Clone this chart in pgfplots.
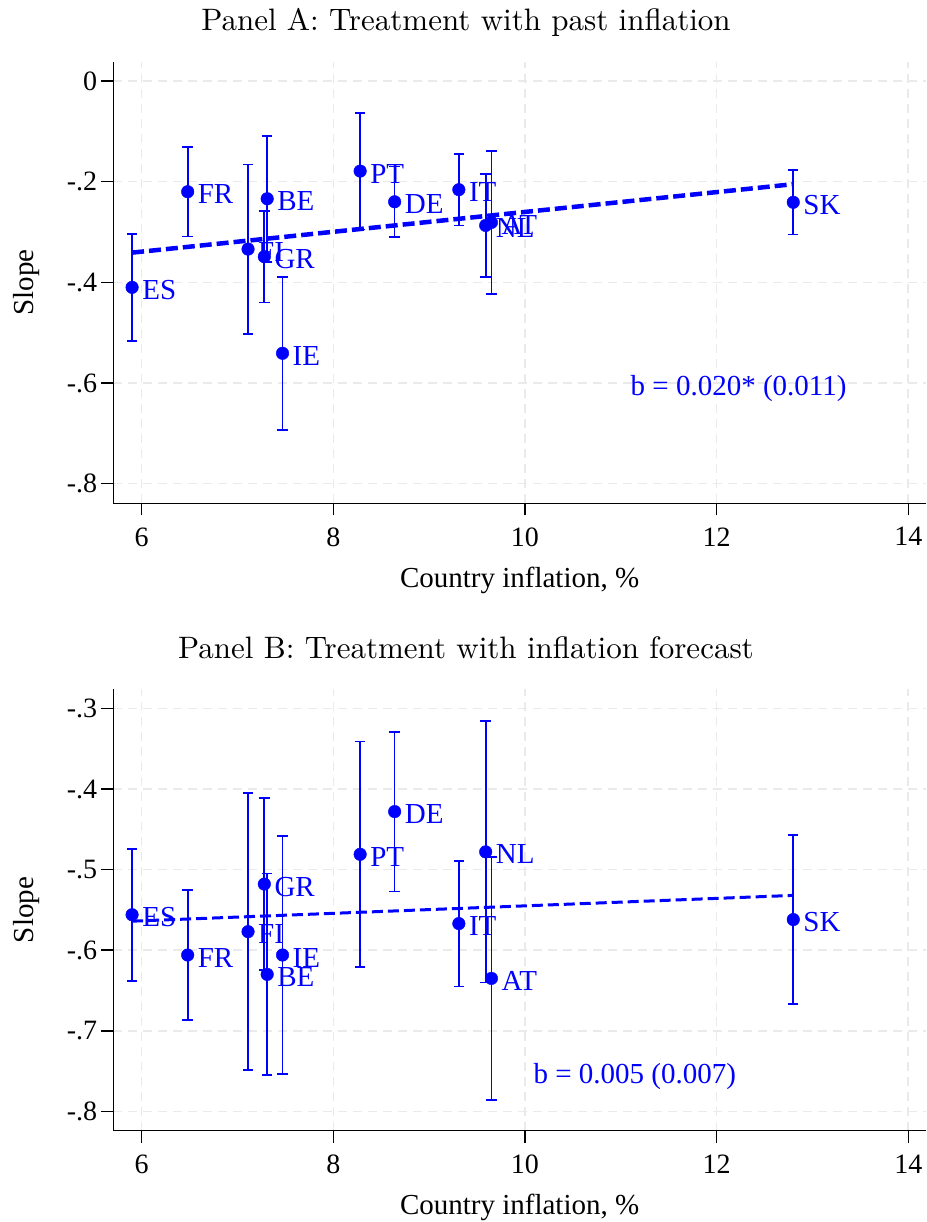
\documentclass[border=0pt]{standalone}
\usepackage{fontspec}
\newfontfamily\tnr{Liberation Serif}
\newfontfamily\lmten{lmroman10-regular.otf}
\usepackage{pgfplots}
\usepackage{pgfplotstable}
\pgfplotsset{compat=1.18}
\definecolor{sblue}{RGB}{0,0,255}
\definecolor{gridc}{RGB}{234,234,234}

% country, inflation, slope, half-width of the CI
\pgfplotstableread{
x y e lab
5.90 -0.410 0.106 ES
6.48 -0.220 0.089 FR
7.11 -0.334 0.168 FI
7.28 -0.349 0.091 GR
7.31 -0.234 0.125 BE
7.47 -0.541 0.152 IE
8.28 -0.179 0.116 PT
8.64 -0.240 0.070 DE
9.31 -0.216 0.071 IT
9.59 -0.287 0.102 NL
9.65 -0.281 0.142 AT
12.80 -0.241 0.064 SK
}\panelA
\pgfplotstableread{
x y e lab
5.90 -0.556 0.082 ES
6.48 -0.606 0.081 FR
7.11 -0.577 0.172 FI
7.28 -0.518 0.107 GR
7.31 -0.630 0.125 BE
7.47 -0.606 0.148 IE
8.28 -0.481 0.140 PT
8.64 -0.428 0.099 DE
9.31 -0.567 0.078 IT
9.59 -0.478 0.162 NL
9.65 -0.635 0.151 AT
12.80 -0.562 0.105 SK
}\panelB

\pgfplotsset{
  panel/.style={
    scale only axis, width=812.7pt, height=441.3pt,
    xmin=5.704, xmax=14.185,
    axis x line*=bottom, axis y line*=left,
    axis line style={line width=1.5pt, -},
    tick align=outside, major tick length=12pt,
    every tick/.style={line width=1.5pt, black},
    xtick={6,8,10,12,14}, xticklabels={6,8,10,12,14},
    grid=major,
    major grid style={draw=gridc, line width=1.6pt, dash pattern=on 9pt off 6pt},
    ticklabel style={font=\tnr\fontsize{28}{30}\selectfont, inner sep=0pt},
    xticklabel shift=12pt, yticklabel shift=4pt,
    xlabel={Country inflation, \%}, ylabel={Slope},
    label style={font=\tnr\fontsize{29}{31}\selectfont},
    xlabel style={at={(axis description cs:0.5,-0.190)}, anchor=base},
    ylabel style={at={(axis description cs:-0.1062,0.5)}, anchor=center},
    clip=false,
  },
  cty/.style={
    only marks, mark=*, mark size=6.3pt, color=sblue,
    mark options={fill=sblue, draw=sblue},
    error bars/y dir=both, error bars/y explicit,
    error bars/error bar style={line width=1.7pt, sblue},
    error bars/error mark options={rotate=90, mark size=5.2pt, line width=1.7pt, sblue},
    point meta=explicit symbolic,
    nodes near coords,
    every node near coord/.style={anchor=west, xshift=10pt, yshift=-2.5pt, inner sep=0pt,
      font=\tnr\fontsize{29}{29}\selectfont, text=sblue},
  },
}

\begin{document}
\begin{tikzpicture}
\path[use as bounding box] (0pt,0pt) rectangle (926pt,-1222pt);

\node[anchor=base, font=\lmten\fontsize{31}{34}\selectfont] at (466pt,-30.7pt)
  {Panel A: Treatment with past inflation};
\node[anchor=base, font=\lmten\fontsize{31}{34}\selectfont] at (466pt,-658.1pt)
  {Panel B: Treatment with inflation forecast};

\begin{axis}[panel, at={(113.3pt,-503.3pt)}, anchor=south west,
  ymin=-0.839, ymax=0.0377,
  ytick={-0.8,-0.6,-0.4,-0.2,0}, yticklabels={-.8,-.6,-.4,-.2,0}]
\addplot[sblue, line width=4.5pt, dash pattern=on 12pt off 5pt]
  coordinates {(5.90,-0.341) (12.80,-0.205)};
\addplot[cty] table[x=x, y=y, y error=e, meta=lab] {\panelA};
\node[font=\tnr\fontsize{29}{29}\selectfont, text=sblue, anchor=base]
  at (axis cs:12.23,-0.624) {b = 0.020* (0.011)};
\end{axis}

\begin{axis}[panel, at={(113.3pt,-1130.7pt)}, anchor=south west,
  ymin=-0.824, ymax=-0.2764,
  ytick={-0.8,-0.7,-0.6,-0.5,-0.4,-0.3}, yticklabels={-.8,-.7,-.6,-.5,-.4,-.3}]
\addplot[sblue, line width=3pt, dash pattern=on 11pt off 5pt]
  coordinates {(5.90,-0.564) (12.80,-0.532)};
\addplot[cty] table[x=x, y=y, y error=e, meta=lab] {\panelB};
\node[font=\tnr\fontsize{29}{29}\selectfont, text=sblue, anchor=base]
  at (axis cs:11.146,-0.765) {b = 0.005 (0.007)};
\end{axis}
\end{tikzpicture}
\end{document}
